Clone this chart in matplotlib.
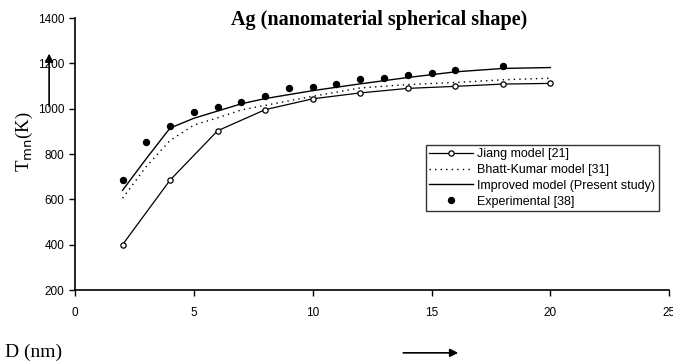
import matplotlib
matplotlib.use("Agg")
import matplotlib.pyplot as plt

# Jiang model [21]
d_jiang = [2, 4, 6, 8, 10, 12, 14, 16, 18, 20]
t_jiang = [400, 685, 903, 996, 1044, 1070, 1090, 1099, 1109, 1112]

# Bhatt-Kumar model [31]
d_bhatt = [2, 3, 4, 5, 6, 7, 8, 10, 12, 14, 16, 18, 20]
t_bhatt = [605, 745, 860, 928, 960, 995, 1015, 1055, 1092, 1107, 1116, 1128, 1135]

# Improved model (present study)
d_impr = [2, 3, 4, 5, 6, 7, 8, 10, 12, 14, 16, 18, 20]
t_impr = [640, 780, 915, 958, 990, 1022, 1045, 1080, 1110, 1138, 1163, 1178, 1182]

# Experimental [38]
d_exp = [2, 3, 4, 5, 6, 7, 8, 9, 10, 11, 12, 13, 14, 15, 16, 18]
t_exp = [684, 853, 922, 984, 1010, 1028, 1057, 1091, 1098, 1109, 1132, 1138, 1149, 1160, 1171, 1190]

x_ticks = [0, 5, 10, 15, 20, 25]
y_ticks = [200, 400, 600, 800, 1000, 1200, 1400]

plt.rcParams["font.family"] = "Liberation Sans"

fig = plt.figure(figsize=(6.73, 3.63), dpi=100)
ax = fig.add_axes([0.1114, 0.201, 0.883, 0.749])

ax.plot(d_jiang, t_jiang, color="black", lw=0.9, marker="o", ms=3.8,
        mfc="white", mec="black", mew=0.9, label="Jiang model [21]")
ax.plot(d_bhatt, t_bhatt, color="black", lw=1.0, ls=(0, (1, 3)),
        label="Bhatt-Kumar model [31]")
ax.plot(d_impr, t_impr, color="black", lw=1.0, label="Improved model (Present study)")
ax.plot(d_exp, t_exp, ls="", marker="o", ms=4.3, color="black",
        label="Experimental [38]")

ax.set_xlim(0, 25)
ax.set_ylim(200, 1400)
ax.set_xticks(x_ticks)
ax.set_yticks(y_ticks)
ax.tick_params(labelsize=8.5, length=4, width=1, direction="out")
ax.tick_params(axis="x", pad=8)
ax.spines["top"].set_visible(False)
ax.spines["right"].set_visible(False)
for s in ("left", "bottom"):
    ax.spines[s].set_linewidth(1.2)

leg = ax.legend(loc="upper left", bbox_to_anchor=(0.59, 0.535), fontsize=9,
                frameon=True, fancybox=False, edgecolor="black",
                handlelength=3.5, handletextpad=0.3, labelspacing=0.3,
                borderpad=0.3, borderaxespad=0)
leg.get_frame().set_linewidth(1.0)

fig.text(0.563, 0.945, "Ag (nanomaterial spherical shape)", ha="center",
         va="center", fontsize=14.5, fontweight="bold", family="Liberation Serif")
fig.text(0.037, 0.61, r"T$_{\mathrm{mn}}$(K)", rotation=90, ha="center",
         va="center", fontsize=13.5, family="Liberation Serif")
fig.text(0.008, 0.03, "D (nm)", ha="left", va="center", fontsize=14,
         family="Liberation Serif")

# direction arrows
fig.add_artist(matplotlib.patches.FancyArrowPatch(
    (0.073, 0.70), (0.073, 0.86), transform=fig.transFigure,
    arrowstyle="-|>", mutation_scale=12, color="black", lw=1.2))
fig.add_artist(matplotlib.patches.FancyArrowPatch(
    (0.595, 0.028), (0.685, 0.028), transform=fig.transFigure,
    arrowstyle="-|>", mutation_scale=12, color="black", lw=1.2))

fig.savefig("out.png", dpi=100)
